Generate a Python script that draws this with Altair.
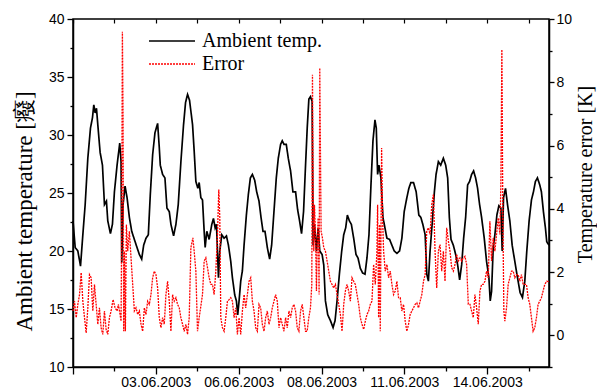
import altair as alt
import pandas as pd

# ---------------- data (hours since 01.06.2003 00:00) ----------------
temp_hours = [2.4, 4.05, 6.05, 8.05, 9.8, 11.55, 13.55, 15.55, 17.05, 18.05, 19.05, 20.05, 21.05, 22.8, 24.55,
              26.05, 27.55, 28.55, 30.55, 32.05, 33.55, 35.55, 37.55, 38.55, 39.05, 40.05, 41.55, 43.05, 44.8,
              46.55, 48.55, 50.55, 52.3, 54.05, 55.55, 57.3, 59.05, 60.55, 62.3, 64.05, 66.05, 67.3, 68.05,
              69.8, 71.55, 73.05, 74.8, 76.05, 78.05, 79.8, 81.55, 83.55, 85.55, 87.05, 88.55, 90.05,
              92.3, 93.55, 94.8, 96.3, 97.3, 98.55, 99.8, 101.05, 101.8, 103.05, 104.8, 106.8, 108.05, 109.3,
              110.3, 111.8, 112.8, 114.3, 116.05, 117.8, 119.3, 121.05, 122.3, 124.05, 125.3, 126.3, 127.3,
              128.55, 129.8, 131.05, 132.8, 134.3, 135.8, 137.3, 139.05, 140.55, 142.3, 143.8, 145.3, 146.8,
              148.55, 150.3, 151.8, 153.55, 155.3, 156.8, 158.55, 159.8, 161.05, 162.8, 164.3, 166.05, 167.8,
              169.8, 171.3, 172.8, 174.3, 175.8, 177.3, 178.55, 179.8, 181.0, 182.25, 183.0, 184.0, 185.5,
              186.75, 188.0, 189.75, 191.0, 192.25, 194.0, 196.0, 198.0, 199.5, 201.0, 202.75, 204.5, 206.0,
              207.5, 208.75, 210.25, 211.75, 213.5, 215.25, 216.75, 218.5, 220.25, 222.0, 223.5, 225.0, 226.5,
              228.0, 229.5, 230.5, 231.5, 232.5, 234.0, 235.5, 237.0, 238.5, 240.5, 242.25, 244.0, 246.0,
              248.0, 249.75, 251.5, 253.5, 255.0, 256.5, 258.5, 260.5, 262.5, 264.0, 265.5, 267.25, 268.5,
              269.7, 270.95, 272.7, 274.2, 275.45, 277.2, 278.95, 280.95, 282.7, 284.2, 285.45, 286.7, 288.45,
              290.2, 291.7, 293.2, 294.7, 296.2, 297.7, 299.2, 300.7, 302.2, 303.7, 305.2, 306.7, 308.2, 309.7,
              311.7, 313.45, 315.2, 316.2, 317.2, 318.45, 319.7, 321.2, 322.7, 324.2, 325.2, 326.2, 327.7,
              329.2, 330.95, 332.7, 334.7, 336.7, 338.7, 340.45, 342.2, 343.7, 345.45, 347.2, 348.7, 350.2,
              351.7, 353.45, 354.7, 356.2, 357.7, 358.7, 360.4]
temp_values = [22.6, 20.3, 20.0, 18.7, 21.4, 24.0, 28.0, 30.6, 31.5, 32.6, 31.9, 32.3, 30.9, 28.5, 27.4,
               24.0, 24.3, 22.6, 21.5, 22.3, 25.1, 27.4, 29.3, 27.7, 19.0, 24.0, 25.6, 24.6, 22.9,
               21.7, 21.0, 20.3, 19.7, 19.3, 20.5, 21.1, 21.4, 24.9, 28.3, 30.2, 31.0, 28.9, 27.4,
               26.6, 26.3, 23.7, 23.4, 22.3, 21.3, 22.3, 24.0, 27.7, 30.9, 32.8, 33.5, 33.0,
               30.9, 28.6, 26.0, 25.4, 25.9, 24.6, 24.4, 21.7, 20.3, 21.7, 21.0, 22.3, 22.8, 22.0,
               22.3, 17.7, 20.0, 21.4, 21.1, 21.3, 20.5, 19.1, 17.7, 16.2, 15.7, 14.5, 15.7,
               17.4, 18.3, 20.5, 23.1, 24.9, 26.3, 26.6, 26.1, 25.1, 24.3, 22.9, 21.7, 21.7,
               20.3, 19.3, 20.5, 23.4, 26.3, 28.0, 29.2, 29.5, 29.2, 29.2, 28.0, 26.9, 25.1,
               25.1, 23.6, 22.6, 21.5, 23.4, 27.4, 30.6, 33.1, 33.3, 32.9, 20.5, 22.3, 20.0,
               22.0, 20.0, 19.7, 18.8, 15.7, 14.5, 14.0, 13.4, 14.0, 15.7, 18.0, 20.0, 21.4,
               22.0, 23.1, 22.6, 22.3, 21.1, 19.7, 19.4, 18.5, 18.1, 18.0, 19.4, 21.4, 25.7,
               29.5, 31.3, 30.6, 26.6, 27.4, 26.3, 22.9, 22.0, 21.1, 21.0, 20.5, 20.0, 19.8,
               20.0, 21.1, 23.4, 24.6, 25.4, 25.9, 25.9, 25.1, 23.1, 22.9, 22.3, 21.4, 18.0,
               17.4, 20.0, 22.6, 25.1, 26.6, 27.7, 27.4, 28.0, 27.4, 26.3, 22.9, 21.0, 20.5,
               19.7, 18.8, 17.5, 18.8, 21.1, 22.9, 25.7, 26.0, 26.6, 26.9, 26.3, 25.4, 24.0, 22.9,
               21.1, 19.1, 17.7, 15.7, 16.5, 20.3, 21.4, 23.1, 23.9, 23.7, 20.0, 24.6, 25.4,
               24.0, 22.6, 20.5, 19.1, 17.7, 16.4, 16.0, 17.4, 20.0, 22.6, 24.4, 25.1, 26.0,
               26.3, 25.7, 25.1, 23.4, 22.0, 20.8, 20.5]

err_hours = [2.4, 3.55, 4.8, 6.05, 7.3, 8.55, 9.8, 11.05, 12.3, 13.55, 14.8, 16.05, 17.3, 18.55, 19.8, 21.05,
             22.3, 23.55, 24.8, 26.05, 27.3, 28.55, 29.8, 31.05, 32.55, 34.05, 35.55, 36.55, 37.8, 38.55,
             39.05, 39.55, 40.05, 40.55, 41.05, 41.8, 42.55, 43.55, 44.8, 46.05, 47.3, 48.55, 49.8, 51.05,
             52.3, 53.55, 54.8, 56.05, 57.3, 58.55, 59.8, 61.05, 62.3, 63.55, 64.8, 66.05, 67.3, 68.55,
             69.8, 71.05, 72.3, 73.55, 74.8, 76.05, 77.3, 78.55, 79.8, 81.05, 82.3, 83.55, 84.8, 86.05,
             87.3, 88.55, 89.8, 91.05, 92.55, 93.55, 94.8, 96.05, 97.3, 99.8, 101.05, 102.3, 103.55,
             104.8, 106.05, 107.3, 108.55, 109.8, 111.05, 112.05, 112.8, 113.55, 114.8, 116.05, 117.3,
             118.55, 119.8, 121.05, 122.3, 123.55, 124.8, 126.05, 127.3, 128.55, 129.8, 131.05, 132.3,
             133.55, 134.8, 136.05, 137.3, 138.55, 139.8, 141.05, 142.3, 143.55, 144.8, 146.05, 147.3,
             148.55, 149.8, 151.05, 152.3, 153.55, 154.8, 156.05, 157.3, 158.55, 159.8, 161.05, 162.3,
             163.55, 164.8, 166.05, 167.3, 168.55, 169.8, 171.05, 172.3, 173.55, 174.8, 176.05, 177.3,
             178.5, 179.75, 181.0, 182.0, 182.5, 183.0, 183.5, 184.0, 184.75, 185.5, 186.0, 186.75, 187.5,
             188.0, 188.5, 189.0, 190.0, 191.0, 192.25, 193.5, 194.75, 196.0, 197.25, 198.5, 199.75,
             201.0, 202.25, 203.5, 204.75, 206.0, 207.25, 208.5, 209.75, 211.0, 212.25, 213.5, 214.75,
             216.0, 217.25, 218.5, 219.75, 221.0, 222.25, 223.5, 224.75, 226.0, 227.25, 228.5, 229.75,
             231.0, 231.5, 232.25, 233.0, 233.5, 234.5, 235.25, 236.0, 237.25, 238.5, 239.75, 241.0,
             242.25, 243.5, 244.75, 246.0, 247.25, 248.5, 249.75, 251.0, 252.25, 253.5, 254.75, 256.0,
             257.25, 258.5, 259.75, 261.0, 262.25, 263.5, 264.75, 266.0, 267.25, 268.45, 269.7, 270.95,
             272.2, 273.45, 274.7, 275.95, 277.2, 278.45, 279.7, 280.95, 282.2, 283.45, 284.7, 285.95,
             287.2, 288.45, 289.7, 290.95, 292.2, 293.45, 294.7, 295.95, 297.2, 298.45, 299.7, 300.95,
             302.2, 303.45, 304.7, 305.95, 307.2, 308.45, 309.7, 310.95, 312.2, 313.45, 314.7, 315.95,
             317.2, 318.45, 319.7, 320.95, 322.2, 323.45, 324.2, 324.95, 325.7, 326.45, 327.2, 328.45,
             329.7, 330.95, 332.2, 333.45, 334.7, 335.95, 337.2, 338.45, 339.7, 340.95, 342.2, 343.45,
             344.7, 345.95, 347.2, 348.45, 349.7, 350.95, 352.2, 353.45, 354.7, 355.95, 357.2, 358.7, 360.4]
err_values = [0.77, 1.08, 0.56, 0.98, 1.29, 1.98, 1.08, 0.56, 0.08, 0.87, 1.92, 1.82, 0.77, 1.61, 0.98, 0.35,
              0.87, 0.24, 0.03, 0.77, 0.19, 0.03, 0.56, 0.77, 1.13, 0.87, 0.77, 0.98, 0.66, 0.45,
              3.71, 9.6, 6.87, 0.13, 2.66, 0.13, 3.5, 2.66, 3.29, 2.45, 1.61, 0.77, 0.87, 0.66,
              0.77, 0.35, 0.13, 0.87, 0.66, 1.08, 0.98, 1.29, 1.82, 2.03, 1.92, 1.5, 0.56, 0.24,
              0.56, 0.35, 1.29, 1.71, 1.08, 0.13, 1.29, 1.08, 1.19, 0.98, 0.87, 0.56, 0.35, 0.13,
              0.35, 0.03, 0.56, 2.77, 3.08, 2.66, 2.03, 0.13, 0.56, 1.29, 2.35, 2.45, 2.14,
              1.82, 1.61, 1.61, 1.29, 2.03, 3.19, 4.61, 3.71, 0.56, 0.24, 0.13, 0.56,
              1.08, 1.13, 1.19, 1.08, 0.56, 0.87, 0.03, 0.56, 0.03, 0.77, 1.29, 0.87,
              1.29, 1.71, 1.82, 1.08, 0.77, 0.24, 0.13, 0.98, 0.87, 0.35, 0.13, 0.56,
              0.77, 0.35, 0.56, 0.87, 1.08, 1.29, 1.08, 0.24, 0.56, 0.35, 0.13, 0.56,
              0.24, 0.77, 0.56, 0.87, 0.98, 0.77, 0.24, 0.13, 0.77, 0.98, 0.56, 0.13,
              0.13, 0.56, 0.87, 1.61, 8.24, 4.77, 2.66, 4.13, 3.29, 1.4, 2.66, 3.71, 1.29,
              8.45, 5.82, 3.29, 3.08, 2.77, 2.66, 2.35, 2.03, 1.71, 1.61, 1.5, 1.61,
              1.29, 0.98, 0.66, 0.13, 0.98, 1.4, 1.61, 1.4, 1.08, 1.82, 1.71, 1.61,
              1.29, 0.98, 0.56, 0.35, 0.19, 0.45, 0.66, 0.77, 0.98, 1.08, 2.24, 1.61,
              2.66, 4.13, 0.56, 3.5, 0.13, 5.92, 3.71, 2.66, 2.03, 2.24, 1.82, 2.03,
              1.61, 1.29, 1.4, 1.71, 1.19, 1.19, 0.77, 0.98, 0.45, 0.13, 0.35, 0.66,
              0.77, 0.87, 0.98, 1.03, 0.87, 1.08, 1.29, 1.71, 1.92, 3.29, 3.4, 3.19,
              4.13, 4.45, 2.66, 1.5, 2.66, 2.87, 2.03, 2.66, 1.71, 3.4, 2.98, 2.66,
              2.14, 2.03, 2.24, 2.56, 2.35, 2.45, 2.35, 2.45, 2.5, 2.24, 0.98, 0.98,
              0.77, 0.56, 1.29, 0.87, 0.35, 1.4, 1.61, 1.61, 1.71, 2.03, 1.82, 3.61,
              2.35, 3.08, 2.66, 3.19, 3.71, 3.19, 4.77, 9.03, 3.71, 0.77, 0.45, 0.87,
              1.61, 1.82, 2.03, 2.03, 1.82, 1.92, 1.92, 1.71, 1.92, 1.61, 1.61, 1.61,
              1.19, 0.98, 0.56, 0.13, 0.24, 0.56, 0.98, 1.08, 1.19, 1.4, 1.61, 1.71, 1.7]

series_names = ["Ambient temp.", "Error"]
series_colors = ["black", "red"]

x_tick_hours = [2.4, 33.55, 64.7, 95.85, 127.0, 158.15, 189.3, 220.45, 251.6, 282.75, 313.9, 345.05]
x_tick_labels = ["", "", "03.06.2003", "", "06.06.2003", "", "08.06.2003", "", "11.06.2003", "", "14.06.2003", ""]

left_ticks = [10, 12.5, 15, 17.5, 20, 22.5, 25, 27.5, 30, 32.5, 35, 37.5, 40]
right_ticks = [-1, 0, 1, 2, 3, 4, 5, 6, 7, 8, 9, 10]

# ---------------- build ----------------
temp_df = pd.DataFrame({"h": temp_hours, "v": temp_values, "series": series_names[0]})
err_df = pd.DataFrame({"h": err_hours, "v": err_values, "series": series_names[1]})

label_expr = " : ".join(
    f"datum.value == {v} ? '{l}'" for v, l in zip(x_tick_hours, x_tick_labels) if l
) + " : ''"
major_x = [v for v, l in zip(x_tick_hours, x_tick_labels) if l] + [x_tick_hours[0]]
major_test = " || ".join(f"datum.value == {v}" for v in major_x)

x_scale = alt.Scale(domain=[2.4, 360.4], nice=False, zero=False)

x_bottom = alt.X(
    "h:Q", scale=x_scale,
    axis=alt.Axis(
        orient="bottom", values=x_tick_hours, labelExpr=label_expr, title=None, grid=False,
        labelFont="Liberation Sans", labelFontSize=14, labelColor="black",
        tickColor="black", tickWidth=1.3,
        tickSize={"condition": {"test": major_test, "value": 7}, "value": 4},
        domainColor="black", domainWidth=1.5, labelPadding=1,
    ),
)
x_top = alt.X(
    "h:Q", scale=x_scale,
    axis=alt.Axis(
        orient="top", values=x_tick_hours, labels=False, title=None, grid=False,
        domain=False, tickColor="black", tickWidth=1.2, tickSize=4, offset=-4,
    ),
)

legend = alt.Legend(
    orient="none", legendX=75, legendY=11, title=None,
    symbolType="M-1,0H3.6", symbolSize=400, symbolStrokeWidth=1.5,
    labelFont="Liberation Serif", labelFontSize=20, labelColor="black",
    labelOffset=32, rowPadding=2, padding=0,
)
color_enc = alt.Color("series:N", scale=alt.Scale(domain=series_names, range=series_colors), legend=legend)
dash_enc = alt.StrokeDash("series:N", scale=alt.Scale(domain=series_names, range=[[1, 0], [2, 1]]), legend=legend)

temp_line = alt.Chart(temp_df).mark_line(strokeWidth=1.7).encode(
    x=x_bottom,
    y=alt.Y(
        "v:Q",
        scale=alt.Scale(domain=[10, 40], nice=False, zero=False),
        axis=alt.Axis(
            orient="left", values=left_ticks,
            labelExpr="datum.value % 5 === 0 ? datum.label : ''",
            title="Ambient temperature [癈]", titleFont="Liberation Serif", titleFontSize=23,
            titleFontWeight="normal", titleColor="black", titlePadding=12, titleY=192,
            labelFont="Liberation Sans", labelFontSize=14, labelColor="black",
            tickColor="black", tickWidth=1.3,
            tickSize={"condition": {"test": "datum.value % 5 === 0", "value": 6}, "value": 3},
            domainColor="black", domainWidth=1.5, grid=False, labelPadding=3,
        ),
    ),
    color=color_enc,
    strokeDash=dash_enc,
)

err_line = alt.Chart(err_df).mark_line(strokeWidth=1.3).encode(
    x=x_top,
    y=alt.Y(
        "v:Q",
        scale=alt.Scale(domain=[-1, 10], nice=False, zero=False),
        axis=alt.Axis(
            orient="right", values=right_ticks,
            labelExpr="datum.value % 2 === 0 ? datum.label : ''",
            title="Temperature error [K]", titleFont="Liberation Serif", titleFontSize=20,
            titleFontWeight="normal", titleColor="black", titlePadding=4, titleAngle=270,
            titleBaseline="top", titleY=155,
            labelFont="Liberation Sans", labelFontSize=14, labelColor="black",
            tickColor="black", tickWidth=1.3,
            tickSize={"condition": {"test": "datum.value % 2 === 0", "value": 5}, "value": 3},
            domainColor="black", domainWidth=1.5, grid=False, labelPadding=2,
        ),
    ),
    color=color_enc,
    strokeDash=dash_enc,
)

chart = (
    alt.layer(temp_line, err_line)
    .resolve_scale(y="independent")
    .resolve_axis(x="independent")
    .properties(
        width=476, height=348,
        autosize=alt.AutoSizeParams(type="none"),
        padding={"left": 73, "top": 19, "right": 48, "bottom": 25},
        background="white",
    )
    .configure_view(stroke="black", strokeWidth=1.5)
)

chart.save("out.html", embed_options={"renderer": "svg", "actions": False})
